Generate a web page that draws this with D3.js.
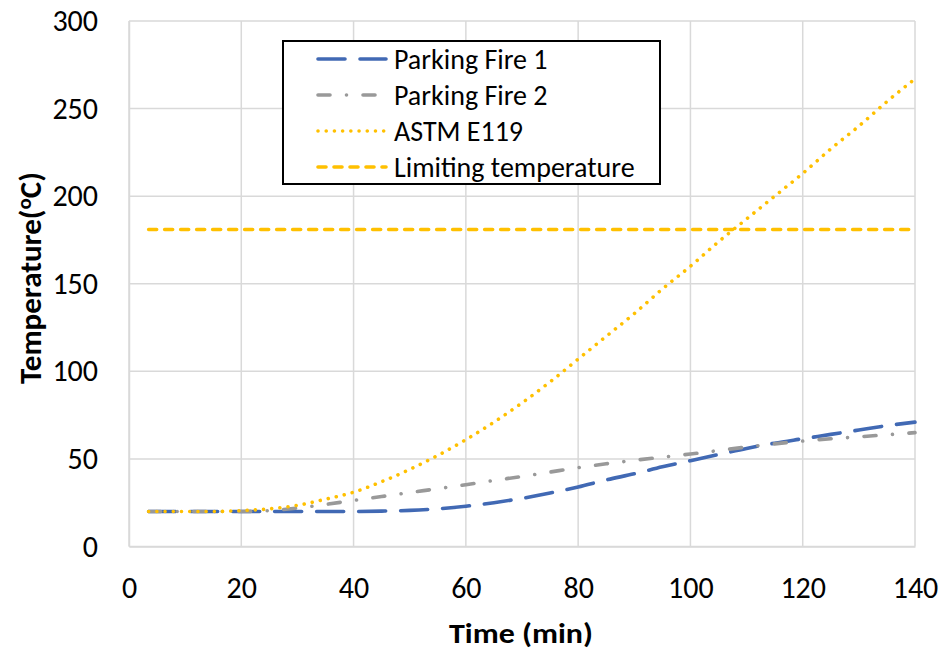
<!DOCTYPE html>
<html><head><meta charset="utf-8">
<script src="https://cdn.jsdelivr.net/npm/d3@7"></script>
<style>body{margin:0;background:#fff}svg{display:block}text{font-family:Calibri,Carlito,"Open Sans",sans-serif}</style>
</head><body><svg id="c" width="943" height="656"></svg>
<script>
const time = [3.5,10,15,20,25,30,35,40,45,50,55,60,65,70,75,80,85,90,95,100,105,110,115,120,125,130,135,140];
const fire1 = [20,20,20,20,20,20,20,20,20.2,20.6,21.5,23,25,27.5,30.5,34,38,41.5,45.5,49,52.5,56,59,61.5,64,66.5,69,71];
const fire2 = [20,20,20,20,20.5,22,24,26.3,28.5,30.8,33,35.3,37.7,40,42.5,45,47.2,49.2,51,52.8,54.8,56.8,58.6,60.2,61.5,62.6,63.8,65];
const astm = [20,20,20,20.5,21.5,23.5,27,31,37,44,52,61,71,82,94,107,120,133,147,160,174,187,200,213,227,240,254,267];
const limitTemp = 181;
const xTicks = [0,20,40,60,80,100,120,140];
const yTicks = [0,50,100,150,200,250,300];
const seriesNames = ["Parking Fire 1","Parking Fire 2","ASTM E119","Limiting temperature"];

const svg = d3.select("#c");
const m = {l:129,r:943-915,t:21,b:656-546.5};
const W = 943, H = 656;
const FS = 28, TFS = 30;
const x = d3.scaleLinear().domain([0,140]).range([m.l, W-m.r]);
const y = d3.scaleLinear().domain([0,300]).range([H-m.b, m.t]);

// grid
const g = svg.append("g");
g.selectAll(".vg").data(xTicks).join("line")
  .attr("x1",d=>x(d)).attr("x2",d=>x(d)).attr("y1",y(0)).attr("y2",y(300))
  .attr("stroke","#d9d9d9").attr("stroke-width",1.5);
g.selectAll(".hg").data(yTicks).join("line")
  .attr("x1",x(0)).attr("x2",x(140)).attr("y1",d=>y(d)).attr("y2",d=>y(d))
  .attr("stroke","#d9d9d9").attr("stroke-width",1.5);

// axes (tick labels only)
const xa = svg.append("g").attr("transform",`translate(0,${y(0)})`)
  .call(d3.axisBottom(x).tickValues(xTicks).tickSize(0).tickPadding(30));
xa.select(".domain").attr("stroke","#d9d9d9").attr("stroke-width",1.5);
xa.selectAll("text").attr("font-size",TFS).attr("fill","#000").attr("font-family","Calibri,Carlito,'Open Sans',sans-serif");
const ya = svg.append("g").attr("transform",`translate(${x(0)},0)`)
  .call(d3.axisLeft(y).tickValues(yTicks).tickSize(0).tickPadding(31));
ya.select(".domain").attr("stroke","#d9d9d9").attr("stroke-width",1.5);
ya.selectAll("text").attr("font-size",TFS).attr("fill","#000").attr("font-family","Calibri,Carlito,'Open Sans',sans-serif");

// titles
svg.append("text").attr("x",521).attr("y",643).attr("text-anchor","middle")
  .attr("font-size",29).attr("font-weight","bold")
  .attr("textLength",144).attr("lengthAdjust","spacingAndGlyphs").text("Time (min)");
const yt = svg.append("text").attr("transform",`translate(41,278) rotate(-90)`)
  .attr("text-anchor","middle").attr("font-size",31).attr("font-weight","bold");
yt.append("tspan").text("Temperature(");
yt.append("tspan").text("o").attr("font-size",21).attr("dy",-10);
yt.append("tspan").text("C)").attr("dy",10);

const line = d3.line().curve(d3.curveMonotoneX).x((d,i)=>x(time[i])).y(d=>y(d));
const styles = [
  {c:"#4169b4",da:"27,15",w:3.6},
  {c:"#999999",da:"12,16.5,0.01,16.5",w:3.6},
  {c:"#ffc000",da:"0.01,8.2",w:3.6},
  {c:"#ffc000",da:"8,8",w:3.6}
];
const lg = svg.append("g");
lg.append("path").attr("d",d3.line()([[x(time[0]),y(limitTemp)],[x(140),y(limitTemp)]]))
  .attr("fill","none").attr("stroke",styles[3].c).attr("stroke-width",styles[3].w)
  .attr("stroke-dasharray",styles[3].da).attr("stroke-linecap","round");
[[fire1,0],[fire2,1],[astm,2]].forEach(([s,k])=>{
  lg.append("path").attr("d",line(s)).attr("fill","none").attr("stroke",styles[k].c)
    .attr("stroke-width",styles[k].w).attr("stroke-dasharray",styles[k].da).attr("stroke-linecap","round");
});

// legend
const L = svg.append("g");
L.append("rect").attr("x",283).attr("y",41).attr("width",377).attr("height",143)
  .attr("fill","#fff").attr("stroke","#000").attr("stroke-width",2);
seriesNames.forEach((n,i)=>{
  const yy = 59 + i*36;
  L.append("path").attr("d",d3.line()([[318,yy],[386,yy]])).attr("fill","none")
    .attr("stroke",styles[i].c).attr("stroke-width",styles[i].w).attr("stroke-dasharray",styles[i].da)
    .attr("stroke-linecap","round");
  L.append("text").attr("x",394).attr("y",yy+10).attr("font-size",FS).text(n);
});
</script></body></html>
